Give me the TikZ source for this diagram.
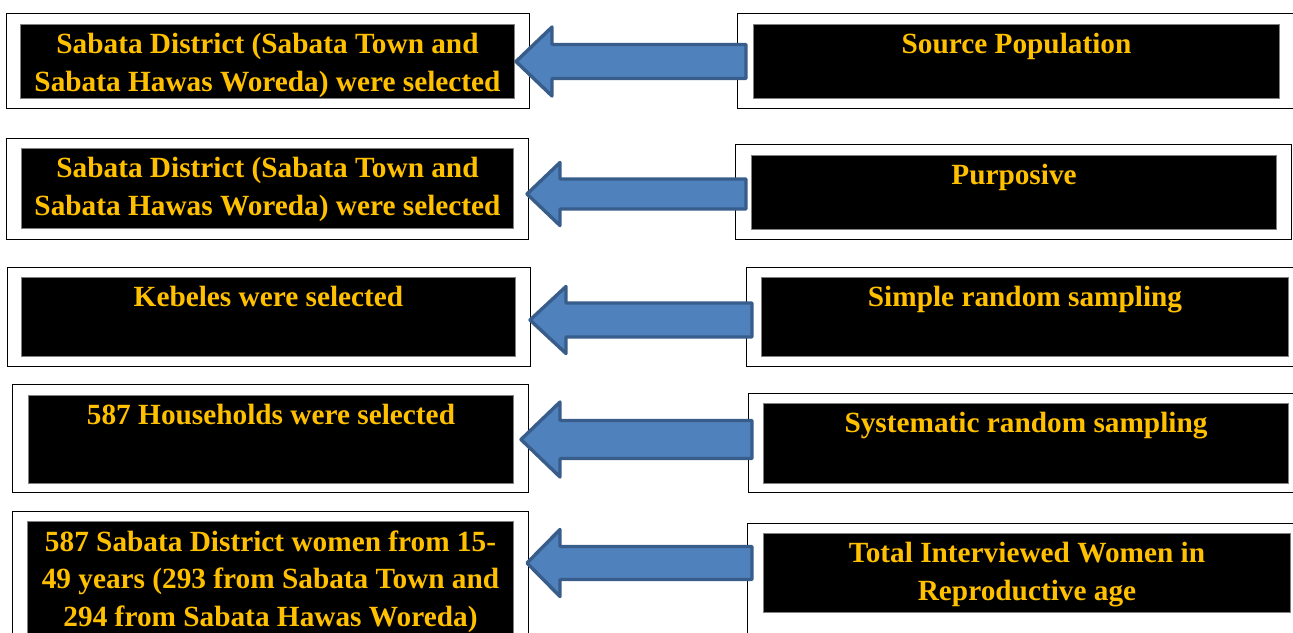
\documentclass[tikz,border=0pt]{standalone}
\usepackage{fontspec}
\setmainfont{Liberation Serif}
\usetikzlibrary{calc}

\definecolor{gold}{RGB}{255,192,0}
\definecolor{arrowblue}{RGB}{79,129,189}
\definecolor{arrowedge}{RGB}{56,93,138}

\tikzset{
  boxsize/.style 2 args={minimum width=#1*0.5pt, minimum height=#2*0.5pt},
  outerbox/.style={draw=black, line width=0.6pt, inner sep=0pt, anchor=north west},
  innerbox/.style={fill=black, draw=gray, line width=0.5pt, inner sep=0pt, anchor=north west},
  boxtext/.style={text=gold, font=\bfseries\fontsize{14.65pt}{18.8pt}\selectfont,
    align=center, anchor=north, inner sep=0pt},
  bigarrow/.style={fill=arrowblue, draw=arrowedge, line width=1.7pt, line join=round}
}

% block arrow: tip, tail, head length, head half height, shaft half height
\newcommand{\blockarrow}[5]{%
  \draw[bigarrow] (#1) -- ++(#3,-#4) -- ++(0,#4-#5) -- ($(#2)+(0,-#5)$)
    -- ($(#2)+(0,#5)$) -- ($(#1)+(#3,#5)$) -- ++(0,#4-#5) -- cycle;}

\begin{document}
\begin{tikzpicture}[x=0.5pt, y=-0.5pt]
    \useasboundingbox (0,0) rectangle (1293,632);

    % Row 1
    \node[outerbox, boxsize={523}{95}] (sel1) at (6,13) {};
    \node[innerbox, boxsize={494}{74}] (sel1-in) at (20,24) {};
    \node[boxtext] (sel1-txt) at ($(sel1-in.north)+(0,9)$)
    {Sabata District (Sabata Town and\\Sabata Hawas Woreda) were selected};
    \node[outerbox, boxsize={560}{95}] (source) at (737,13) {};
    \node[innerbox, boxsize={526}{74}] (source-in) at (753,24) {};
    \node[boxtext] (source-txt) at ($(source-in.north)+(0,9)$) {Source Population};

    % Row 2
    \node[outerbox, boxsize={522}{101}] (sel2) at (6,138) {};
    \node[innerbox, boxsize={492}{80}] (sel2-in) at (21,148) {};
    \node[boxtext] (sel2-txt) at ($(sel2-in.north)+(0,9)$)
    {Sabata District (Sabata Town and\\Sabata Hawas Woreda) were selected};
    \node[outerbox, boxsize={556}{95}] (purp) at (735,144) {};
    \node[innerbox, boxsize={525}{74}] (purp-in) at (751,155) {};
    \node[boxtext] (purp-txt) at ($(purp-in.north)+(0,9)$) {Purposive};

    % Row 3
    \node[outerbox, boxsize={523}{99}] (keb) at (7,267) {};
    \node[innerbox, boxsize={494}{79}] (keb-in) at (21,277) {};
    \node[boxtext] (keb-txt) at ($(keb-in.north)+(0,9)$) {Kebeles were selected};
    \node[outerbox, boxsize={552}{99}] (srs) at (746,267) {};
    \node[innerbox, boxsize={527}{79}] (srs-in) at (761,277) {};
    \node[boxtext] (srs-txt) at ($(srs-in.north)+(0,9)$) {Simple random sampling};

    % Row 4
    \node[outerbox, boxsize={516}{108}] (hh) at (12,384) {};
    \node[innerbox, boxsize={485}{88}] (hh-in) at (28,395) {};
    \node[boxtext] (hh-txt) at ($(hh-in.north)+(0,9)$) {587 Households were selected};
    \node[outerbox, boxsize={550}{99}] (sys) at (748,393) {};
    \node[innerbox, boxsize={525}{80}] (sys-in) at (763,403) {};
    \node[boxtext] (sys-txt) at ($(sys-in.north)+(0,9)$) {Systematic random sampling};

    % Row 5
    \node[outerbox, boxsize={516}{130}] (women) at (12,511) {};
    \node[innerbox, boxsize={486}{120}] (women-in) at (27,521) {};
    \node[boxtext] (women-txt) at ($(women-in.north)+(0,9)$)
    {587 Sabata District women from 15-\\49 years (293 from Sabata Town and\\294 from Sabata Hawas Woreda)};
    \node[outerbox, boxsize={550}{120}] (total) at (747,523) {};
    \node[innerbox, boxsize={527}{79}] (total-in) at (763,533) {};
    \node[boxtext] (total-txt) at ($(total-in.north)+(0,9)$)
    {Total Interviewed Women in\\Reproductive age};

    % Arrow ends
    \coordinate (sel1-tip) at (516,61.5);   \coordinate (source-tail) at (746,61.5);
    \coordinate (sel2-tip) at (527,194);    \coordinate (purp-tail) at (746,194);
    \coordinate (keb-tip) at (530,320);     \coordinate (srs-tail) at (752,320);
    \coordinate (hh-tip) at (521,439.5);    \coordinate (sys-tail) at (752,439.5);
    \coordinate (women-tip) at (527,563);   \coordinate (total-tail) at (752,563);

    % Arrows
    \blockarrow{sel1-tip}{source-tail}{36}{34.5}{17}
    \blockarrow{sel2-tip}{purp-tail}{33}{31.5}{15}
    \blockarrow{keb-tip}{srs-tail}{36}{33.5}{17}
    \blockarrow{hh-tip}{sys-tail}{39}{37.5}{19}
    \blockarrow{women-tip}{total-tail}{33}{33.5}{16.5}
\end{tikzpicture}
\end{document}
